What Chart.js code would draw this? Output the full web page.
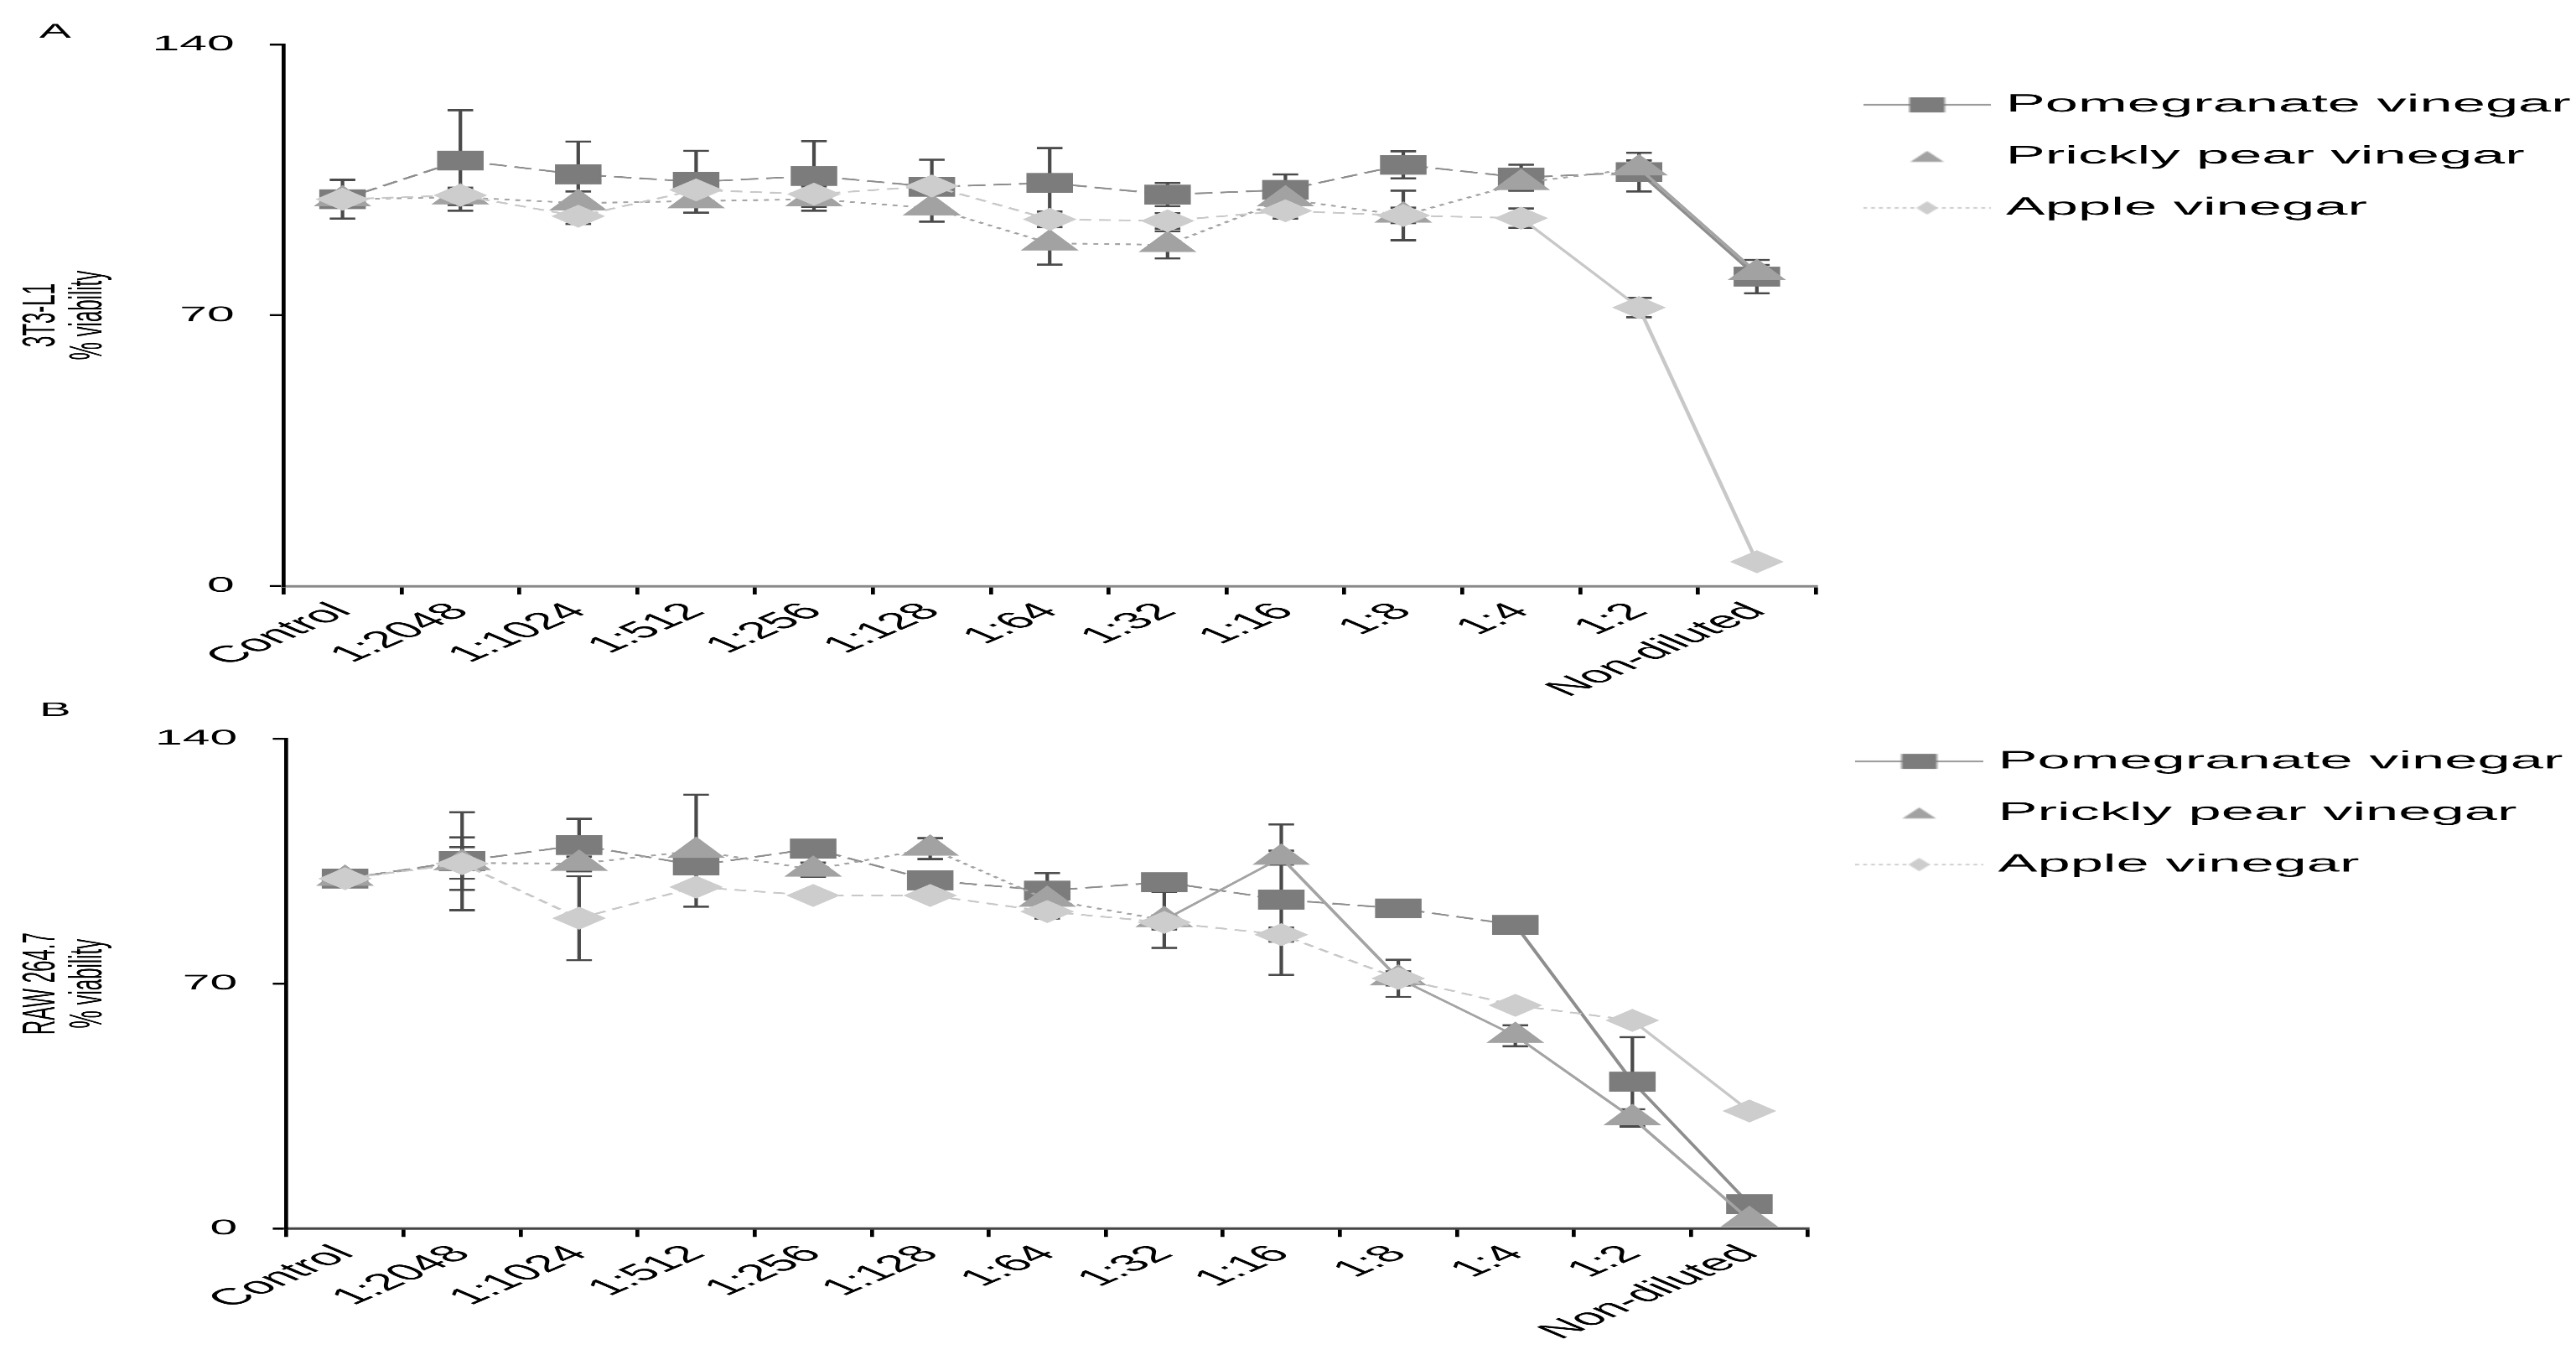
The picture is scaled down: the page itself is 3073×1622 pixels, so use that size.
<!DOCTYPE html>
<html>
<head>
<meta charset="utf-8">
<script src="https://cdn.jsdelivr.net/npm/chart.js@4.4.1/dist/chart.umd.min.js"></script>
<style>
  html, body { margin: 0; padding: 0; background: #fff; overflow: hidden; }
  canvas { display: block; }
</style>
</head>
<body>
<!-- the original figure is stretched horizontally, so the canvases are drawn narrow and widened by css -->
<canvas id="chartA" width="1308" height="830" style="width:3073px;height:830px"></canvas>
<canvas id="chartB" width="1308" height="792" style="width:3073px;height:792px"></canvas>
<script>
const dilutions = ['Control', '1:2048', '1:1024', '1:512', '1:256', '1:128', '1:64', '1:32', '1:16', '1:8', '1:4', '1:2', 'Non-diluted'];
const yTickValues = [0, 70, 140];
const seriesNames = ['Pomegranate vinegar', 'Prickly pear vinegar', 'Apple vinegar'];

// panel A - 3T3-L1
const pomegranateA    = [100, 110, 106.4, 104.5, 106, 103.2, 104.2, 101.2, 102.4, 108.9, 105.6, 107, 80];
const pomegranateAErr = [5, 13, 8.5, 8, 9, 7, 9, 3, 4, 3.5, 3.3, 5, 4.3];
const pricklyA        = [100, 100.5, 99, 99.5, 100, 97.7, 88.6, 88.2, 100, 95.8, 104.2, 108, 81];
const pricklyAErr     = [0, 2, 3, 3, 2, 3.5, 5.5, 3.5, 2, 6.4, 2, 2, 2];
const appleA          = [100, 101, 95.6, 102.4, 101.3, 103.4, 94.8, 94.4, 97, 95.8, 95.1, 72, 6.3];
const appleAErr       = [0, 2, 2, 2, 2, 2, 2, 2, 2, 2, 2.5, 2.5, 1];

// panel B - RAW 264.7
const pomegranateB    = [100, 105, 109.6, 103.8, 108.6, 99.5, 96.6, 99, 94, 91.5, 86.8, 42, 7];
const pomegranateBErr = [1, 14, 7.5, 2, 2, 1, 5, 1.5, 21.5, 1, 1, 12.7, 1];
const pricklyB        = [100, 104.5, 104.3, 108, 102.6, 108.6, 94, 88.2, 106, 71.5, 55.1, 31.6, 2.5];
const pricklyBErr     = [1, 4.5, 2, 16, 2, 3, 2, 8, 2, 2, 3, 2.5, 1];
const appleB          = [100, 104.3, 88.7, 97.6, 95.2, 95.2, 90.6, 87.5, 84, 71.5, 63.8, 59.5, 33.6];
const appleBErr       = [1, 7.5, 12, 1, 1, 1, 2, 2, 2, 5.3, 1, 1, 1];

const STRETCH = 3073 / 1308;

Chart.defaults.font.family = '"Liberation Sans", Arial, sans-serif';
Chart.defaults.color = '#000';

// little legend pictures: line sample with the marker on it
function legendIcon(shape, fill, lineColor, dash) {
    const c = document.createElement('canvas');
    c.width = 65;
    c.height = 30;
    const g = c.getContext('2d');
    if (lineColor) {
        g.strokeStyle = lineColor;
        g.lineWidth = 2;
        g.setLineDash(dash);
        g.beginPath();
        g.moveTo(0, 15);
        g.lineTo(65, 15);
        g.stroke();
        g.setLineDash([]);
    }
    g.fillStyle = fill;
    g.beginPath();
    if (shape === 'rect') {
        g.rect(23.5, 6, 18, 18);
    } else if (shape === 'triangle') {
        g.moveTo(32.5, 8.5);
        g.lineTo(41, 21.5);
        g.lineTo(24, 21.5);
        g.closePath();
    } else {
        g.moveTo(32.5, 7);
        g.lineTo(38, 15);
        g.lineTo(32.5, 23);
        g.lineTo(27, 15);
        g.closePath();
    }
    g.fill();
    return c;
}

const icons = [
    legendIcon('rect', '#7c7c7c', '#9a9a9a', []),
    legendIcon('triangle', '#a2a2a2', null, []),
    legendIcon('diamond', '#cdcdcd', '#cfcfcf', [2, 2])
];

const errorBars = {
    id: 'errorBars',
    beforeDatasetsDraw(chart) {
        const { ctx, scales: { x, y } } = chart;
        ctx.save();
        ctx.strokeStyle = '#4a4a4a';
        chart.data.datasets.forEach(ds => {
            ds.errors.forEach((e, i) => {
                if (!e) return;
                const px = x.getPixelForValue(i);
                const hi = y.getPixelForValue(ds.data[i] + e);
                const lo = y.getPixelForValue(ds.data[i] - e);
                ctx.lineWidth = 1.8;
                ctx.beginPath();
                ctx.moveTo(px, hi);
                ctx.lineTo(px, lo);
                ctx.stroke();
                ctx.lineWidth = 2.5;
                ctx.beginPath();
                ctx.moveTo(px - 6.5, hi);
                ctx.lineTo(px + 6.5, hi);
                ctx.moveTo(px - 6.5, lo);
                ctx.lineTo(px + 6.5, lo);
                ctx.stroke();
            });
        });
        ctx.restore();
    }
};

function series(i, data, errors, style, solidFrom) {
    return {
        label: seriesNames[i],
        data: data,
        errors: errors,
        order: 3 - i,
        borderColor: style.line,
        borderWidth: 2,
        tension: 0,
        fill: false,
        pointStyle: style.shape,
        pointRadius: style.radius,
        pointBackgroundColor: style.fill,
        pointBorderColor: style.fill,
        pointBorderWidth: 1,
        segment: {
            borderDash: c => c.p1DataIndex >= solidFrom ? [] : style.dash
        }
    };
}

const pomStyle = { line: '#8e8e8e', fill: '#7c7c7c', shape: 'rect', radius: 16, dash: [9, 4] };
const pricklyStyle = { line: '#a4a4a4', fill: '#a2a2a2', shape: 'triangle', radius: 16, dash: [2.5, 3] };
const appleStyle = { line: '#c8c8c8', fill: '#cdcdcd', shape: 'rectRot', radius: 13, dash: [6, 4] };

function buildChart(id, cfg) {
    return new Chart(document.getElementById(id), {
        type: 'line',
        data: {
            labels: dilutions,
            datasets: [
                series(0, cfg.pom, cfg.pomErr, pomStyle, cfg.solid[0]),
                series(1, cfg.prickly, cfg.pricklyErr, pricklyStyle, cfg.solid[1]),
                series(2, cfg.apple, cfg.appleErr, appleStyle, cfg.solid[2])
            ]
        },
        options: {
            responsive: false,
            animation: false,
            devicePixelRatio: STRETCH,
            layout: { padding: { left: 20, top: 0, right: 0, bottom: 0 } },
            scales: {
                x: {
                    offset: true,
                    border: { color: cfg.xAxisColor, width: 3 },
                    grid: { offset: true, drawOnChartArea: false, tickLength: 10, color: '#000', lineWidth: 2 },
                    ticks: { autoSkip: false, minRotation: 45, maxRotation: 45, padding: 4, font: { size: 28 }, color: '#000' },
                    afterFit: s => { s.height = cfg.xHeight; }
                },
                y: {
                    min: 0,
                    max: 140,
                    border: { color: '#000', width: 2 },
                    grid: { drawOnChartArea: false, tickLength: 7, color: '#000', lineWidth: 2.5 },
                    ticks: { font: { size: 25 }, color: '#000', padding: 18 },
                    afterBuildTicks: s => { s.ticks = yTickValues.map(v => ({ value: v })); },
                    title: {
                        display: true,
                        text: cfg.yTitle,
                        color: '#000',
                        font: { size: 24, lineHeight: 1.0 },
                        padding: { top: -11, bottom: 0 }
                    },
                    afterFit: s => { s.width = cfg.yWidth; }
                }
            },
            plugins: {
                title: {
                    display: true,
                    text: cfg.panel,
                    align: 'start',
                    color: '#000',
                    font: { size: 24, weight: 'normal', lineHeight: 1.0 },
                    padding: cfg.titlePadding
                },
                legend: {
                    position: 'right',
                    align: 'start',
                    maxWidth: cfg.legendWidth,
                    title: { display: true, text: '', font: { size: 10, lineHeight: 1.2 }, padding: { top: cfg.legendGap, bottom: 0 } },
                    labels: {
                        usePointStyle: true,
                        pointStyleWidth: 50,
                        padding: 31.5,
                        color: '#000',
                        font: { size: 30 },
                        generateLabels: chart => Chart.defaults.plugins.legend.labels.generateLabels(chart)
                            .sort((a, b) => a.datasetIndex - b.datasetIndex)
                            .map(item => Object.assign(item, { pointStyle: icons[item.datasetIndex] }))
                    }
                },
                tooltip: { enabled: false }
            }
        },
        plugins: [errorBars]
    });
}

buildChart('chartA', {
    panel: 'A',
    yTitle: ['3T3-L1', '% viability'],
    pom: pomegranateA, pomErr: pomegranateAErr,
    prickly: pricklyA, pricklyErr: pricklyAErr,
    apple: appleA, appleErr: appleAErr,
    solid: [12, 12, 11],
    xAxisColor: '#8a8a8a',
    xHeight: 131,
    yWidth: 124,
    titlePadding: { top: 26, bottom: 3 },
    legendWidth: 386,
    legendGap: 66.5
});

buildChart('chartB', {
    panel: 'B',
    yTitle: ['RAW 264.7', '% viability'],
    pom: pomegranateB, pomErr: pomegranateBErr,
    prickly: pricklyB, pricklyErr: pricklyBErr,
    apple: appleB, appleErr: appleBErr,
    solid: [11, 8, 12],
    xAxisColor: '#444',
    xHeight: 157,
    yWidth: 125.5,
    titlePadding: { top: 5, bottom: 22 },
    legendWidth: 390,
    legendGap: 19.5
});
</script>
</body>
</html>
